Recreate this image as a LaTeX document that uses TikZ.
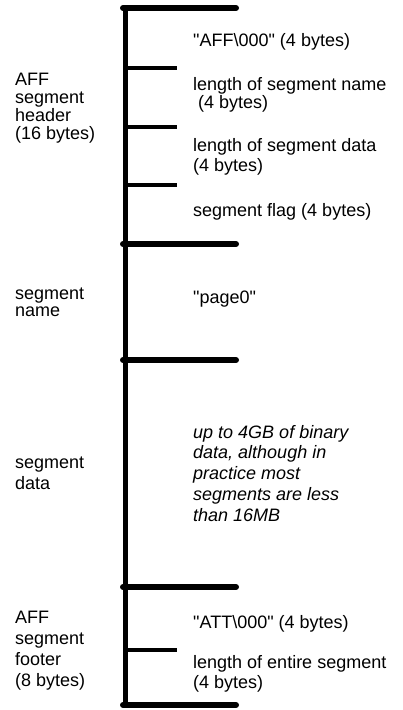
\documentclass[tikz,border=0pt]{standalone}
\usepackage{fontspec}
\setmainfont{Liberation Sans}[Ligatures=TeXOff]
\begin{document}
\begin{tikzpicture}[x=1pt,y=-1pt,
  spine/.style={line width=5pt},
  major/.style={line width=6pt,line cap=round},
  minor/.style={line width=3.5pt},
  lbl/.style={anchor=base west,inner sep=0pt,align=left,font=\fontsize{18}{17.7}\selectfont},
]
\useasboundingbox (0,0) rectangle (402,710);
% spine
\coordinate (top) at (125.5,5);
\coordinate (bot) at (125.5,708);
\draw[spine] (top) -- (bot);
% major separators
\foreach \y/\n in {8/m1,244/m2,360/m3,587/m4,705/m5}{
  \coordinate (\n a) at (123,\y);
  \coordinate (\n b) at (236,\y);
  \draw[major] (\n a) -- (\n b);
}
% minor separators
\foreach \y/\n in {68/s1,127/s2,185/s3,650/s4}{
  \coordinate (\n a) at (125,\y);
  \coordinate (\n b) at (177,\y);
  \draw[minor] (\n a) -- (\n b);
}
% left labels (anchored at baseline of last line)
\node[lbl] (hdr) at (15,139) {AFF\\segment\\header\\(16 bytes)};
\node[lbl,font=\fontsize{18}{17}\selectfont] (nm) at (15,316) {segment\\name};
\node[lbl,font=\fontsize{18}{21}\selectfont] (dt) at (15,489) {segment\\data};
\node[lbl,font=\fontsize{18}{21}\selectfont] (ftr) at (15,686) {AFF\\segment\\footer\\(8 bytes)};
% right labels
\node[lbl] (r1) at (193,46) {"AFF\textbackslash 000" (4 bytes)};
\node[lbl] (r2) at (193,108) {length of segment name\\\ (4 bytes)};
\node[lbl,font=\fontsize{18}{20}\selectfont] (r3) at (193,171) {length of segment data\\(4 bytes)};
\node[lbl] (r4) at (193,216) {segment flag (4 bytes)};
\node[lbl] (r5) at (193,303) {"page0"};
\node[lbl,font=\fontsize{18}{20.7}\selectfont\itshape] (r6) at (193,521) {up to 4GB of binary\\data, although in\\practice most\\segments are less\\than 16MB};
\node[lbl] (r7) at (193,628) {"ATT\textbackslash 000" (4 bytes)};
\node[lbl,font=\fontsize{18}{20}\selectfont] (r8) at (193,688) {length of entire segment\\(4 bytes)};
\end{tikzpicture}
\end{document}
